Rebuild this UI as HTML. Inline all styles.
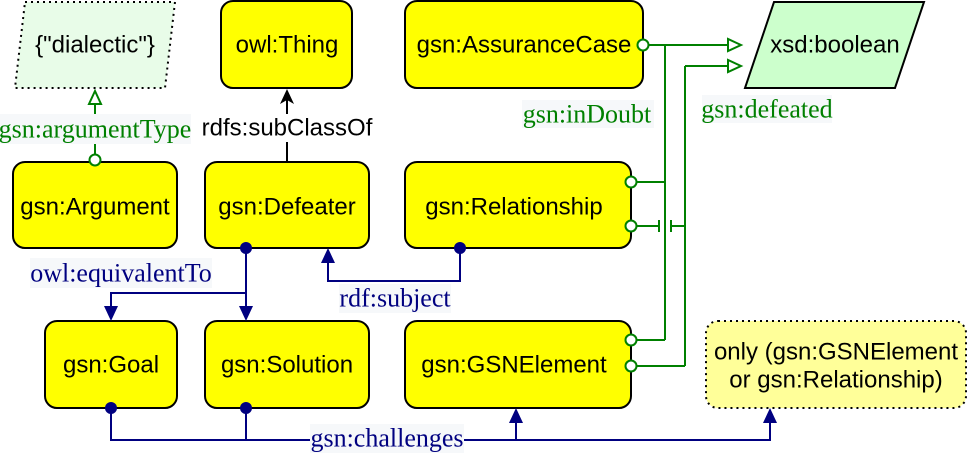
<!DOCTYPE html>
<html><head><style>
html,body{margin:0;padding:0;background:#fff;width:968px;height:462px;overflow:hidden}
svg{display:block}
.b{fill:#ffff00;stroke:#000;stroke-width:2}
.t{font-family:"Liberation Sans",sans-serif;font-size:24px;fill:#000;text-anchor:middle;dominant-baseline:central}
.l{font-family:"Liberation Serif",serif;font-size:26px;text-anchor:middle;dominant-baseline:central}
</style></head><body>
<svg width="968" height="462" viewBox="0 0 968 462">
<polygon points="25,2 175,2 165,88 15,88" fill="#e8fce8" stroke="#000" stroke-width="2" stroke-dasharray="2,4"/>
<text class="t" x="95" y="45">{"dialectic"}</text>
<rect class="b" x="221" y="1" width="131" height="87" rx="12"/>
<text class="t" x="287" y="45">owl:Thing</text>
<rect class="b" x="405" y="1" width="238" height="87" rx="12"/>
<text class="t" x="524" y="45">gsn:AssuranceCase</text>
<polygon points="774,2 924,2 895,88 745,88" fill="#ccffcc" stroke="#000" stroke-width="2"/>
<text class="t" x="835" y="45">xsd:boolean</text>
<rect class="b" x="13" y="162" width="164" height="86" rx="12"/>
<text class="t" x="95" y="207">gsn:Argument</text>
<rect class="b" x="205" y="162" width="164" height="86" rx="12"/>
<text class="t" x="287" y="207">gsn:Defeater</text>
<rect class="b" x="405" y="162" width="226" height="86" rx="12"/>
<text class="t" x="514" y="207">gsn:Relationship</text>
<rect class="b" x="45" y="321" width="132" height="87" rx="12"/>
<text class="t" x="111" y="365">gsn:Goal</text>
<rect class="b" x="205" y="321" width="164" height="87" rx="12"/>
<text class="t" x="287" y="365">gsn:Solution</text>
<rect class="b" x="405" y="321" width="226" height="87" rx="12"/>
<text class="t" x="514" y="365">gsn:GSNElement</text>
<rect x="706" y="321" width="260" height="87" rx="12" fill="#ffff99" stroke="#000" stroke-width="2" stroke-dasharray="2,4"/>
<text class="t" x="836" y="352">only (gsn:GSNElement</text>
<text class="t" x="836" y="380">or gsn:Relationship)</text>

<g stroke="#008000" stroke-width="2" fill="none">
<line x1="95" y1="155" x2="95" y2="104"/>
<polygon points="95,91 89,104 101,104" fill="#fff"/>
<circle cx="95" cy="160" r="5.5" fill="#fff"/>
<line x1="648" y1="45" x2="728" y2="45"/>
<polygon points="741,45 728,39 728,51" fill="#fff"/>
<line x1="665" y1="45" x2="665" y2="340"/>
<line x1="685" y1="66" x2="685" y2="366"/>
<line x1="685" y1="66" x2="728" y2="66"/>
<polygon points="741,66 728,60 728,72" fill="#fff"/>
<line x1="636" y1="182" x2="665" y2="182"/>
<line x1="636" y1="226" x2="659" y2="226"/>
<line x1="659" y1="220" x2="659" y2="232"/>
<line x1="671" y1="220" x2="671" y2="232"/>
<line x1="671" y1="226" x2="685" y2="226"/>
<line x1="636" y1="340" x2="665" y2="340"/>
<line x1="636" y1="366" x2="685" y2="366"/>
<circle cx="643" cy="45" r="5.5" fill="#fff"/>
<circle cx="631" cy="182" r="5.5" fill="#fff"/>
<circle cx="631" cy="226" r="5.5" fill="#fff"/>
<circle cx="631" cy="340" r="5.5" fill="#fff"/>
<circle cx="631" cy="366" r="5.5" fill="#fff"/>
</g>
<rect x="0" y="114" width="191" height="30" fill="#f6f8fa"/>
<text class="l" x="95" y="129" fill="#008000">gsn:argumentType</text>
<rect x="522" y="100" width="132" height="28" fill="#f6f8fa"/>
<text class="l" x="587" y="114" fill="#008000">gsn:inDoubt</text>
<rect x="702" y="95" width="130" height="28" fill="#f6f8fa"/>
<text class="l" x="767" y="109" fill="#008000">gsn:defeated</text>

<line x1="287" y1="162" x2="287" y2="142" stroke="#000" stroke-width="2"/>
<line x1="287" y1="114" x2="287" y2="100" stroke="#000" stroke-width="2"/>
<polygon points="287,89 280,104 287,100 294,104" fill="#000"/>
<text class="t" x="287" y="128">rdfs:subClassOf</text>

<g stroke="#000080" stroke-width="2" fill="none">
<polyline points="246,248 246,307"/>
<polyline points="246,293 111,293 111,307"/>
<polyline points="460,248 460,281 328,281 328,262"/>
<polyline points="111,408 111,440 438,440"/>
<polyline points="246,408 246,440"/>
<polyline points="464,440 770,440 770,422"/>
<line x1="516" y1="440" x2="516" y2="422"/>
</g>
<g fill="#000080">
<circle cx="246" cy="248" r="6"/>
<circle cx="460" cy="248" r="6"/>
<circle cx="111" cy="408" r="6"/>
<circle cx="246" cy="408" r="6"/>
<polygon points="246,321 239,306 253,306"/>
<polygon points="111,321 104,306 118,306"/>
<polygon points="328,248 321,263 335,263"/>
<polygon points="516,408 509,423 523,423"/>
<polygon points="770,408 763,423 777,423"/>
</g>
<rect x="30" y="258" width="182" height="30" fill="#f6f8fa"/>
<text class="l" x="121" y="273" fill="#000080">owl:equivalentTo</text>
<rect x="339" y="284" width="112" height="29" fill="#f6f8fa"/>
<text class="l" x="395" y="298" fill="#000080">rdf:subject</text>
<rect x="310" y="424" width="154" height="29" fill="#f6f8fa"/>
<text class="l" x="387" y="438" fill="#000080">gsn:challenges</text>
</svg>
</body></html>
